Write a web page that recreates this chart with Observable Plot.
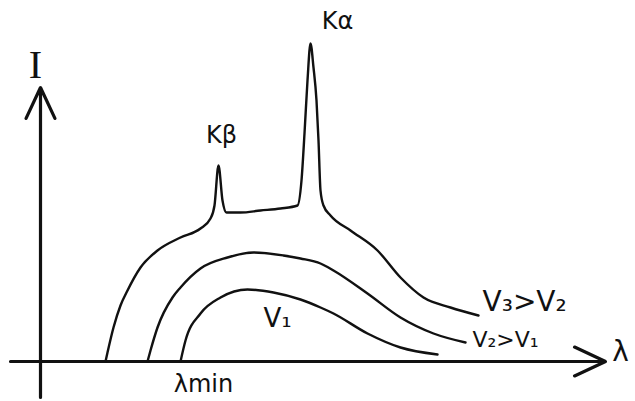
<!DOCTYPE html>
<html>
<head>
<meta charset="utf-8">
<script src="https://cdn.jsdelivr.net/npm/d3@7"></script>
<script src="https://cdn.jsdelivr.net/npm/@observablehq/plot@0.6"></script>
<style>
  html, body { margin: 0; padding: 0; background: #fff; }
  #chart svg { display: block; }
</style>
</head>
<body>
<div id="chart"></div>
<script>
// Wavelength (arbitrary units) and intensity (arbitrary units)
const v3Lambda = [6.5, 6.7, 7.3, 8.0, 8.7, 10.0, 11.7, 14.0, 16.0, 17.0, 17.4, 17.8, 18.2, 18.6, 20.0, 22.0, 24.0, 25.7, 26.1, 26.4, 26.7, 27.0, 27.3, 27.6, 27.8, 28.0, 28.3, 29.0, 31.0, 33.7, 36.0, 38.3, 41.0, 43.8];
const v3Intensity = [0, 0.9, 3.4, 5.6, 7.1, 9.4, 11.1, 12.4, 13.3, 14.3, 15.6, 19.6, 16.1, 14.9, 14.9, 15.1, 15.3, 15.6, 18.1, 22.8, 28.1, 31.8, 29.4, 26.1, 22.1, 17.1, 15.6, 14.6, 13.1, 11.1, 8.4, 6.4, 5.4, 4.6];

const v2Lambda = [10.7, 11.0, 11.7, 13.2, 14.0, 16.0, 18.7, 21.3, 24.3, 26.0, 28.0, 29.3, 32.7, 36.0, 39.3, 42.5];
const v2Intensity = [0, 1.1, 3.4, 6.4, 7.4, 9.3, 10.4, 10.9, 10.6, 10.3, 9.8, 9.1, 6.8, 4.4, 2.8, 1.9];

const v1Lambda = [14.0, 14.5, 16.0, 18.0, 20.7, 23.3, 26.0, 28.0, 29.3, 32.7, 36.0, 39.7];
const v1Intensity = [0, 2.1, 4.8, 6.4, 7.2, 6.9, 6.2, 5.4, 4.8, 2.8, 1.4, 0.7];

// Axes (start and end of each arrow)
const axisNames = ["lambda", "I"];
const axisX1 = [-3, 0];
const axisY1 = [0, -3.6];
const axisX2 = [56.5, 0];
const axisY2 = [0, 27.4];

// Labels
const labelTexts = ["I", "Kβ", "Kα", "V₁", "V₃>V₂", "V₂>V₁", "λmin", "λ"];
const labelLambda = [-0.5, 18.1, 29.7, 23.7, 44.2, 43.2, 16.3, 58.0];
const labelIntensity = [29.6, 22.6, 34.0, 4.3, 5.9, 2.2, -2.3, 0.9];

const toRows = (xs, ys, name) => xs.map((x, i) => ({x, y: ys[i], curve: name}));
const curves = [
  ...toRows(v3Lambda, v3Intensity, "V3"),
  ...toRows(v2Lambda, v2Intensity, "V2"),
  ...toRows(v1Lambda, v1Intensity, "V1")
];
const axes = axisNames.map((n, i) => ({n, x1: axisX1[i], y1: axisY1[i], x2: axisX2[i], y2: axisY2[i]}));
const labels = labelTexts.map((t, i) => ({t, x: labelLambda[i], y: labelIntensity[i]}));
const fontSizes = {"I": 40, "Kβ": 24, "Kα": 24, "V₁": 26, "V₃>V₂": 28, "V₂>V₁": 22, "λmin": 24, "λ": 28};
const anchors = {"V₃>V₂": "start", "V₂>V₁": "start"};
const fonts = {"I": "Liberation Serif"};

const marks = [
  Plot.arrow(axes, {x1: "x1", y1: "y1", x2: "x2", y2: "y2", stroke: "#111", strokeWidth: 3.2, headLength: 16, headAngle: 50}),
  Plot.line(curves, {x: "x", y: "y", z: "curve", stroke: "#111", strokeWidth: 2.4, curve: "monotone-x"})
];
for (const l of labels) {
  marks.push(Plot.text([l], {
    x: "x", y: "y", text: "t",
    fontSize: fontSizes[l.t],
    fontFamily: fonts[l.t] || "DejaVu Sans",
    textAnchor: anchors[l.t] || "middle",
    fill: "#111"
  }));
}

const chart = Plot.plot({
  width: 635,
  height: 401,
  marginTop: 0, marginRight: 0, marginBottom: 0, marginLeft: 0,
  x: {domain: [-4, 59.5], axis: null},
  y: {domain: [-4, 36.1], axis: null},
  style: {background: "#fff"},
  marks
});
document.getElementById("chart").appendChild(chart);
</script>
</body>
</html>
